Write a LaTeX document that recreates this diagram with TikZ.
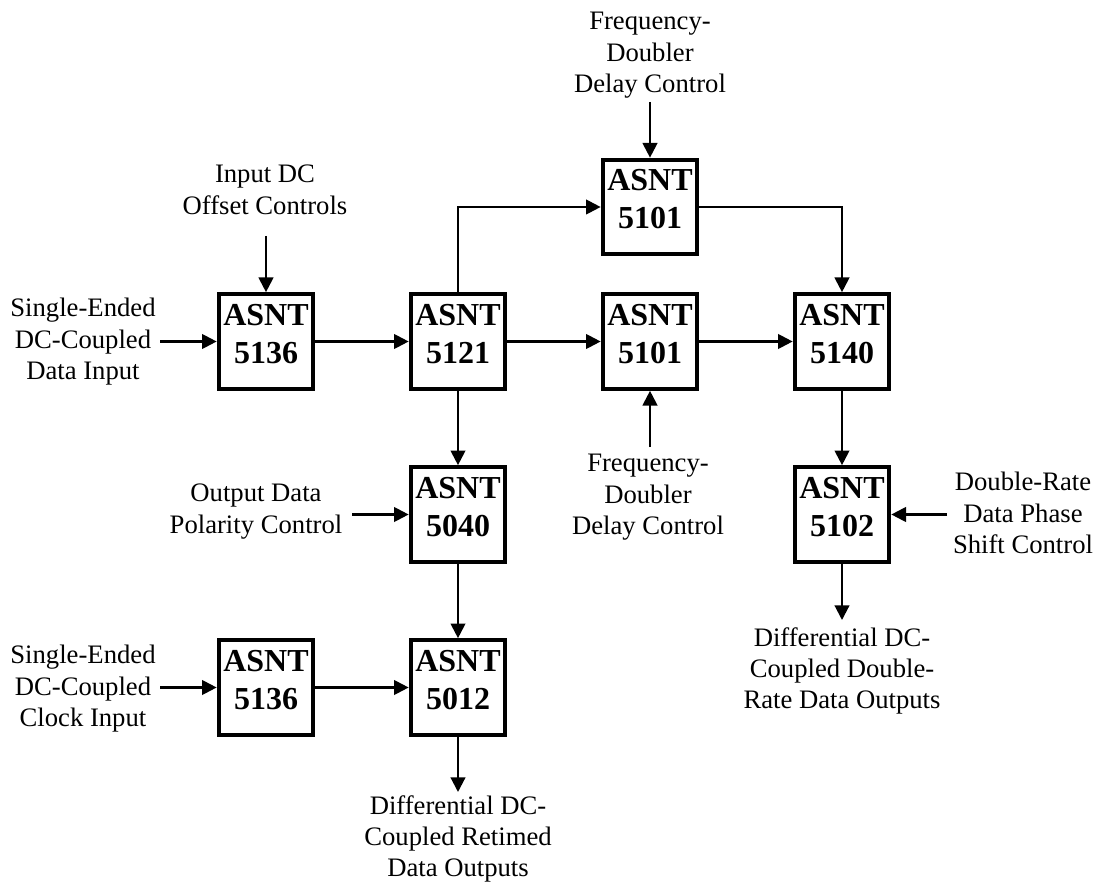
\documentclass[tikz,border=0pt]{standalone}
\usepackage{fontspec}
\setmainfont{Liberation Serif}
\usetikzlibrary{arrows.meta}
\tikzset{
  blk/.style={draw, line width=3pt, minimum width=71pt, minimum height=71pt, inner sep=0pt,
    align=center, font=\fontsize{24}{28.5}\selectfont\bfseries, text depth=12pt},
  lbl/.style={align=center, anchor=north, inner sep=0pt, font=\fontsize{20}{23.6}\selectfont},
  conn/.style={line width=1.6pt, -{Triangle[length=11pt,width=11pt]}},
}
\begin{document}
\begin{tikzpicture}[x=0.75pt,y=-0.75pt]
\useasboundingbox (0,0) rectangle (1096,884);
% boxes
\node[blk] (dA) at (266,341.5) {ASNT\\5136};
\node[blk] (sp) at (458,341.5) {ASNT\\5121};
\node[blk] (fT) at (650,207) {ASNT\\5101};
\node[blk] (fM) at (650,341.5) {ASNT\\5101};
\node[blk] (mx) at (842,341.5) {ASNT\\5140};
\node[blk] (ps) at (842,514.5) {ASNT\\5102};
\node[blk] (pol) at (458,514.5) {ASNT\\5040};
\node[blk] (rt) at (458,687.5) {ASNT\\5012};
\node[blk] (cA) at (266,687.5) {ASNT\\5136};
% labels
\node[lbl] (lFDt) at (650,12) {Frequency-\\Doubler\\Delay Control};
\node[lbl] (lIDC) at (265,165) {Input DC\\Offset Controls};
\node[lbl] (lDin) at (83,298) {Single-Ended\\DC-Coupled\\Data Input};
\node[lbl] (lPol) at (256,484) {Output Data\\Polarity Control};
\node[lbl] (lFDb) at (648,454) {Frequency-\\Doubler\\Delay Control};
\node[lbl] (lDR) at (1023,472) {Double-Rate\\Data Phase\\Shift Control};
\node[lbl] (lOR) at (842,627) {Differential DC-\\Coupled Double-\\Rate Data Outputs};
\node[lbl] (lCin) at (83,645) {Single-Ended\\DC-Coupled\\Clock Input};
\node[lbl] (lOB) at (458,795) {Differential DC-\\Coupled Retimed\\Data Outputs};
% free ends
\coordinate (eFDt) at (650,102);
\coordinate (eIDC) at (266,236);
\coordinate (eDin) at (160,341.5);
\coordinate (ePol) at (352,514.5);
\coordinate (eFDb) at (650,447);
\coordinate (eDR) at (947,514.5);
\coordinate (eOR) at (842,620);
\coordinate (eCin) at (160,687.5);
\coordinate (eOB) at (458,792);
% connectors
\draw[conn] (eFDt) -- (fT.north);
\draw[conn] (eIDC) -- (dA.north);
\draw[conn] (eDin) -- (dA.west);
\draw[conn] (dA) -- (sp);
\draw[conn] (sp) -- (fM);
\draw[conn] (fM) -- (mx);
\draw[conn] (sp.north) |- (fT.west);
\draw[conn] (fT.east) -| (mx.north);
\draw[conn] (eFDb) -- (fM.south);
\draw[conn] (mx) -- (ps);
\draw[conn] (eDR) -- (ps.east);
\draw[conn] (ps.south) -- (eOR);
\draw[conn] (sp) -- (pol);
\draw[conn] (ePol) -- (pol.west);
\draw[conn] (pol) -- (rt);
\draw[conn] (eCin) -- (cA.west);
\draw[conn] (cA) -- (rt);
\draw[conn] (rt.south) -- (eOB);
\end{tikzpicture}
\end{document}
